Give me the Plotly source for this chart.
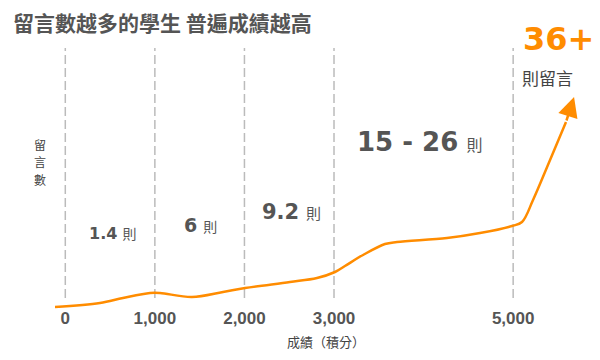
import plotly.graph_objects as go

# ---------------- data ----------------
title_text = "留言數越多的學生 普遍成績越高"
y_label = "留言數"
x_label = "成績（積分）"
x_tick_vals = [0, 1000, 2000, 3000, 5000]
x_tick_text = ["0", "1,000", "2,000", "3,000", "5,000"]

# curve (score vs. relative comment level)
score = [-115, 387, 644, 946, 1057, 1414, 1761, 2007, 2508, 2810, 3011,
         3122, 3324, 3569, 3703, 4261, 4630, 4987, 5099, 5222, 5412, 5590]
level = [3, 7, 12, 17, 17, 13, 18, 22, 28, 32, 38,
         44, 55, 66, 68, 72, 77, 84, 88, 110, 150, 188]
arrow_tip_score = 5680
arrow_tip_level = 213

band_values = ["1.4", "6", "9.2", "15 - 26"]
band_unit = "則"
top_value = "36+"
top_unit = "則留言"

# ---------------- style ----------------
OFF = 8                       # page body margin
W, H = 600 - OFF, 360 - OFF
ORANGE = "#FF8C00"
GRAY = "#555555"
DARK = "#444444"
NUM_FONT = "Liberation Sans, Arial, sans-serif"
WIDE_FONT = "DejaVu Sans, Verdana, sans-serif"
CJK_FONT = "Noto Sans CJK TC, Noto Sans CJK SC, sans-serif"

def fx(px):
    return (px - OFF) / W

def fy(py):
    return 1 - (py - OFF) / H

# screen px = 65.3 + 0.08957 * score ; screen py = 310 - level
SX0, SK = 65.3 - OFF, 0.08957
x_range = [-SX0 / SK, (W - SX0) / SK]
y_range = [310 - OFF - H, 310 - OFF]

fig = go.Figure()

fig.add_trace(go.Scatter(
    x=score, y=level, mode="lines",
    line=dict(color=ORANGE, width=2.5, shape="spline", smoothing=1.0),
    hoverinfo="skip", showlegend=False,
))

# dashed guide lines at each tick
for v in x_tick_vals:
    fig.add_shape(type="line", xref="x", yref="y", x0=v, x1=v, y0=12, y1=262,
                  line=dict(color="#BBBBBB", width=1.5, dash="9px,4px"), layer="below")

# arrow head at the end of the curve
fig.add_annotation(x=arrow_tip_score, y=arrow_tip_level, ax=score[-1], ay=level[-1],
                   xref="x", yref="y", axref="x", ayref="y", text="",
                   showarrow=True, arrowhead=2, arrowsize=1.6, arrowwidth=2.5,
                   arrowcolor=ORANGE, standoff=0, startstandoff=0)

# band labels
band_pos = [(112, 233, 16, 14), (201, 225, 19, 14), (291, 212, 21, 15), (420, 142, 26, 16)]
for val, (px, py, s1, s2) in zip(band_values, band_pos):
    fig.add_annotation(
        x=fx(px), y=fy(py), xref="paper", yref="paper", showarrow=False,
        text=f"<b>{val}</b> <span style='font-size:{s2}px;font-family:Noto Sans CJK TC'>{band_unit}</span>",
        font=dict(family=WIDE_FONT, size=s1, color=GRAY), xanchor="center", yanchor="middle",
    )

fig.add_annotation(x=fx(558), y=fy(39), xref="paper", yref="paper", showarrow=False,
                   text=f"<b>{top_value}</b>", font=dict(family=WIDE_FONT, size=32, color=ORANGE),
                   xanchor="center", yanchor="middle")
fig.add_annotation(x=fx(547), y=fy(77), xref="paper", yref="paper", showarrow=False,
                   text=top_unit, font=dict(family=CJK_FONT, size=17, color=DARK),
                   xanchor="center", yanchor="middle")

# axis labels
for i, ch in enumerate(y_label):
    fig.add_annotation(x=fx(40), y=fy(144 + 17.5 * i), xref="paper", yref="paper", showarrow=False,
                       text=ch, font=dict(family=CJK_FONT, size=12, color=DARK),
                       xanchor="center", yanchor="middle")
fig.add_annotation(x=fx(326), y=fy(341), xref="paper", yref="paper", showarrow=False,
                   text=x_label, font=dict(family=CJK_FONT, size=13, color=DARK),
                   xanchor="center", yanchor="middle")

# title as an annotation kept inside the figure box
fig.add_annotation(x=fx(12), y=fy(22.5), xref="paper", yref="paper", showarrow=False,
                   text=f"<b>{title_text}</b>", borderpad=0,
                   font=dict(family=CJK_FONT, size=21, color=GRAY),
                   xanchor="left", yanchor="middle")

fig.update_layout(
    width=W, height=H,
    margin=dict(l=0, r=0, t=0, b=0),
    paper_bgcolor="white", plot_bgcolor="white",
    xaxis=dict(range=x_range, tickvals=x_tick_vals, ticktext=x_tick_text,
               showgrid=False, zeroline=False, showline=False, ticks="",
               anchor="free", position=(H - (306 - OFF)) / H,
               tickfont=dict(family=NUM_FONT, size=17, color=GRAY, weight="bold")),
    yaxis=dict(range=y_range, visible=False, showgrid=False, zeroline=False),
)

fig.write_html("out.html")
